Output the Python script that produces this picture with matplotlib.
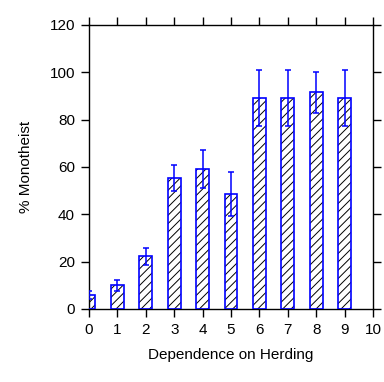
import numpy as np
import matplotlib
matplotlib.use('Agg')
import matplotlib.pyplot as plt

plt.rcParams['font.family'] = ['Liberation Sans', 'DejaVu Sans']
plt.rcParams['hatch.linewidth'] = 0.7

# Veriler
herding = np.arange(10)
monotheist = [5.8, 10.0, 22.2, 55.2, 59.0, 48.5, 89.0, 89.0, 91.5, 89.0]
err = [1.7, 2.4, 3.5, 5.5, 8.0, 9.2, 11.8, 11.8, 8.6, 11.8]

fig = plt.figure(figsize=(3.84, 3.82), dpi=100)
ax = fig.add_axes([0.2318, 0.1911, 0.7396, 0.7435])

# hatch (black) and blue outline drawn separately
ax.bar(herding, monotheist, width=0.45, color='white', edgecolor='black',
       hatch='////', linewidth=0, zorder=2)
ax.bar(herding, monotheist, width=0.45, fill=False, edgecolor='#0000ff',
       linewidth=1.2, zorder=3)
ax.errorbar(herding, monotheist, yerr=err, fmt='none', ecolor='#0000ff',
            elinewidth=1.1, capsize=2.2, capthick=1.1, zorder=4)

ax.set_xlim(0, 10)
ax.set_ylim(0, 120)
ax.set_xticks(range(11))
ax.set_yticks(range(0, 121, 20))
ax.tick_params(direction='out', length=6, width=1, labelsize=11, pad=4,
               top=True, right=True, labeltop=False, labelright=False)
for s in ax.spines.values():
    s.set_linewidth(1)

ax.set_xlabel('Dependence on Herding', fontsize=11, labelpad=8)
ax.set_ylabel('% Monotheist', fontsize=11, labelpad=12)

fig.savefig('out.png', dpi=100)
